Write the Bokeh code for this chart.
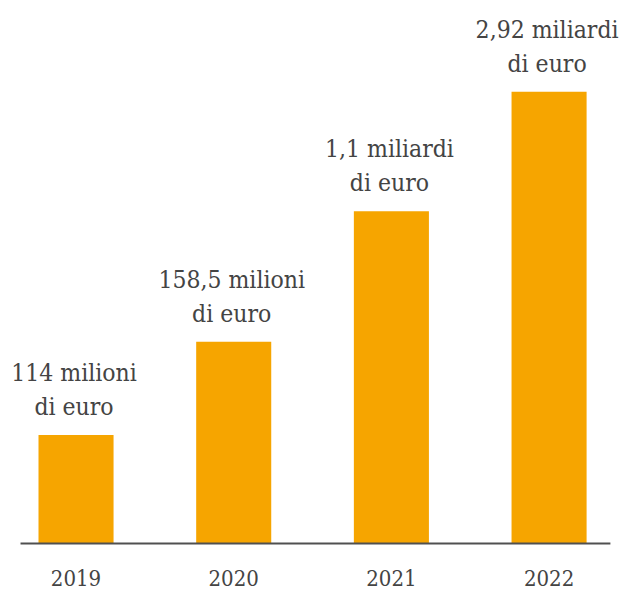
from bokeh.plotting import figure
from bokeh.models import ColumnDataSource, Range1d, FixedTicker
from bokeh.core.properties import value
from bokeh.embed import file_html
from bokeh.resources import INLINE

years = ["2019", "2020", "2021", "2022"]
bar_heights = [108, 201, 331, 450]
labels = ["114 milioni\ndi euro", "158,5 milioni\ndi euro", "1,1 miliardi\ndi euro", "2,92 miliardi\ndi euro"]

FONT = "DejaVu Serif Condensed"
idx = list(range(len(years)))
src = ColumnDataSource(dict(x=idx, top=bar_heights, label=labels))

p = figure(width=620, height=589, output_backend="svg", toolbar_location=None,
           x_range=Range1d(-0.479, 3.453), y_range=Range1d(-2, 541),
           min_border_left=0, min_border_right=0, min_border_top=0, min_border_bottom=44)
p.vbar(x="x", top="top", width=0.476, bottom=0, source=src, color="#F6A500", line_color=None)
# baseline rule (spans slightly beyond the outer bars)
p.segment(x0=[idx[0] - 0.352], x1=[idx[-1] + 0.389], y0=[0], y1=[0],
          line_color="#505050", line_width=2)
p.text(x="x", y="top", text="label", source=src, text_align="center", text_baseline="bottom",
       x_offset=-2, y_offset=-14, text_font=value(FONT), text_font_size="24.5px",
       text_color="#444444", text_line_height=1.18)

p.xaxis.ticker = FixedTicker(ticks=idx)
p.xaxis.major_label_overrides = {i: y for i, y in zip(idx, years)}
p.xaxis.major_tick_line_color = None
p.xaxis.minor_tick_line_color = None
p.xaxis.axis_line_color = None
p.xaxis.major_label_text_font = FONT
p.xaxis.major_label_text_font_size = "22px"
p.xaxis.major_label_text_color = "#444444"
p.xaxis.major_label_standoff = 18
p.yaxis.visible = False
p.xgrid.visible = False
p.ygrid.visible = False
p.outline_line_color = None

open("out.html", "w").write(file_html(p, INLINE))
